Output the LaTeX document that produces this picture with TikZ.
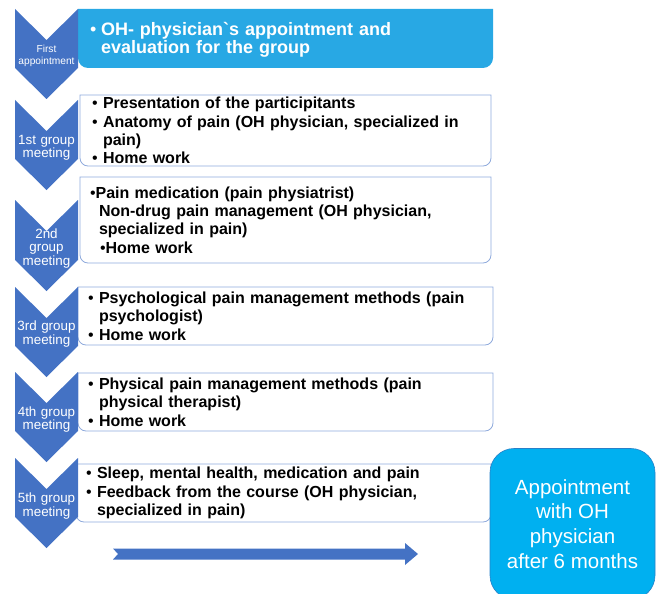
\documentclass[tikz,border=0pt]{standalone}
\usepackage{fontspec}
\setmainfont{Liberation Sans}
\newfontfamily\plainsans{Liberation Sans}
\usetikzlibrary{backgrounds}
\definecolor{chevblue}{RGB}{68,114,196}
\definecolor{lineblue}{RGB}{143,170,220}
\definecolor{skyfill}{RGB}{40,168,228}
\definecolor{apptfill}{RGB}{0,176,240}
\definecolor{apptline}{RGB}{40,128,200}
\newcommand{\dotmark}{{\mdseries\textbullet}}
\newcommand{\itm}{\makebox[11pt][l]{\dotmark}}
\newcommand{\cont}{\hspace*{11pt}}

\begin{document}
\begin{tikzpicture}[
    x=1pt, y=-1pt,
    chev/.style={fill=chevblue},
    chevlabel/.style={text=white, align=center, inner sep=0pt, text width=62pt,
        font=\fontsize{13.4}{13.5}\selectfont},
    itembox/.style={anchor=north west, align=left, inner xsep=10pt, inner ysep=0pt,
        outer sep=0pt, font=\fontsize{16}{18.3}\selectfont\bfseries},
    boxline/.style={draw=lineblue, line width=0.8pt},
    apptbox/.style={fill=apptfill, draw=apptline, line width=0.6pt, rounded corners=24pt,
        minimum width=165pt, minimum height=151pt, text=white, align=center,
        font=\fontsize{20.5}{24.7}\selectfont}
]
\useasboundingbox (0,0) rectangle (659,594);

% Step labels
\node[chevlabel, font=\fontsize{10.2}{12}\selectfont] (firsttag) at (46.5,56) {First\\appointment};
\node[chevlabel] (tagone) at (46.5,148) {1st group\\meeting};
\node[chevlabel] (tagtwo) at (46.5,248.5) {2nd\\group\\meeting};
\node[chevlabel] (tagthree) at (46.5,334) {3rd group\\meeting};
\node[chevlabel] (tagfour) at (46.5,419.5) {4th group\\meeting};
\node[chevlabel] (tagfive) at (46.5,506) {5th group\\meeting};

% Contents of each step
\node[itembox, text=white, inner xsep=12pt, font=\fontsize{18}{18}\selectfont\bfseries,
    minimum width=415pt, text width=391pt, minimum height=59pt] (evaluation) at (78,10.5)
    {\itm OH- physician{\plainsans`}s appointment and\\\cont evaluation for the group};

\node[itembox, inner xsep=12pt, minimum width=411pt, text width=387pt, minimum height=71pt] (anatomy) at (80,95)
    {\itm Presentation of the participitants\\
     \itm Anatomy of pain (OH physician, specialized in\\
     \cont pain)\\
     \itm Home work};

\node[itembox, minimum width=411pt, text width=391pt, minimum height=86pt] (medication) at (80,177)
    {\dotmark Pain medication (pain physiatrist)\\
     \hspace*{9pt}Non-drug pain management (OH physician,\\
     \hspace*{9pt}specialized in pain)\\
     \hspace*{10pt}\dotmark Home work};

\node[itembox, minimum width=415pt, text width=395pt, minimum height=58pt] (psychology) at (78,287)
    {\itm Psychological pain management methods (pain\\
     \cont psychologist)\\
     \itm Home work};

\node[itembox, minimum width=415pt, text width=395pt, minimum height=58pt] (physical) at (78,373)
    {\itm Physical pain management methods (pain\\
     \cont physical therapist)\\
     \itm Home work};

\node[itembox, minimum width=415pt, text width=395pt, minimum height=58pt] (feedback) at (76,464)
    {\itm Sleep, mental health, medication and pain\\
     \itm Feedback from the course (OH physician,\\
     \cont specialized in pain)};

% Follow-up
\node[apptbox] (followup) at (572.5,524) {Appointment\\with OH\\physician\\after 6 months};

% Time arrow
\fill[chevblue] (113,548.5) -- (405,548.5) -- (405,543) -- (418,554) -- (405,565)
    -- (405,559.5) -- (113,559.5) -- (118,554) -- cycle;

\begin{pgfonlayer}{background}
% Boxes, rounded on the right only
\fill[skyfill] ([yshift=1.5pt]evaluation.north west) -- ([yshift=1.5pt]evaluation.north east) [rounded corners=10pt]
    -- ([yshift=1.5pt]evaluation.south east) -- ([yshift=1.5pt]evaluation.south west) [sharp corners] -- cycle;
\draw[boxline] (anatomy.north west) -- (anatomy.north east) [rounded corners=8pt]
    -- (anatomy.south east) -- (anatomy.south west) [sharp corners] -- cycle;
\draw[boxline] (medication.north west) -- (medication.north east) [rounded corners=8pt]
    -- (medication.south east) -- (medication.south west) [sharp corners] -- cycle;
\draw[boxline] (psychology.north west) -- (psychology.north east) [rounded corners=8pt]
    -- (psychology.south east) -- (psychology.south west) [sharp corners] -- cycle;
\draw[boxline] (physical.north west) -- (physical.north east) [rounded corners=8pt]
    -- (physical.south east) -- (physical.south west) [sharp corners] -- cycle;
\draw[boxline] (feedback.north west) -- (feedback.north east) [rounded corners=8pt]
    -- (feedback.south east) -- (feedback.south west) [sharp corners] -- cycle;

% Chevrons
\fill[chev] (15,9) -- (46.5,40) -- (78,9) -- (78,68) -- (46.5,99) -- (15,68) -- cycle;
\fill[chev] (15,100) -- (46.5,131) -- (78,100) -- (78,159) -- (46.5,190) -- (15,159) -- cycle;
\fill[chev] (15,200) -- (46.5,231) -- (78,200) -- (78,260) -- (46.5,291) -- (15,260) -- cycle;
\fill[chev] (15,287) -- (46.5,318) -- (78,287) -- (78,346) -- (46.5,377) -- (15,346) -- cycle;
\fill[chev] (15,372) -- (46.5,403) -- (78,372) -- (78,431) -- (46.5,462) -- (15,431) -- cycle;
\fill[chev] (15,458) -- (46.5,489) -- (78,458) -- (78,517) -- (46.5,548) -- (15,517) -- cycle;
\end{pgfonlayer}

\end{tikzpicture}
\end{document}
